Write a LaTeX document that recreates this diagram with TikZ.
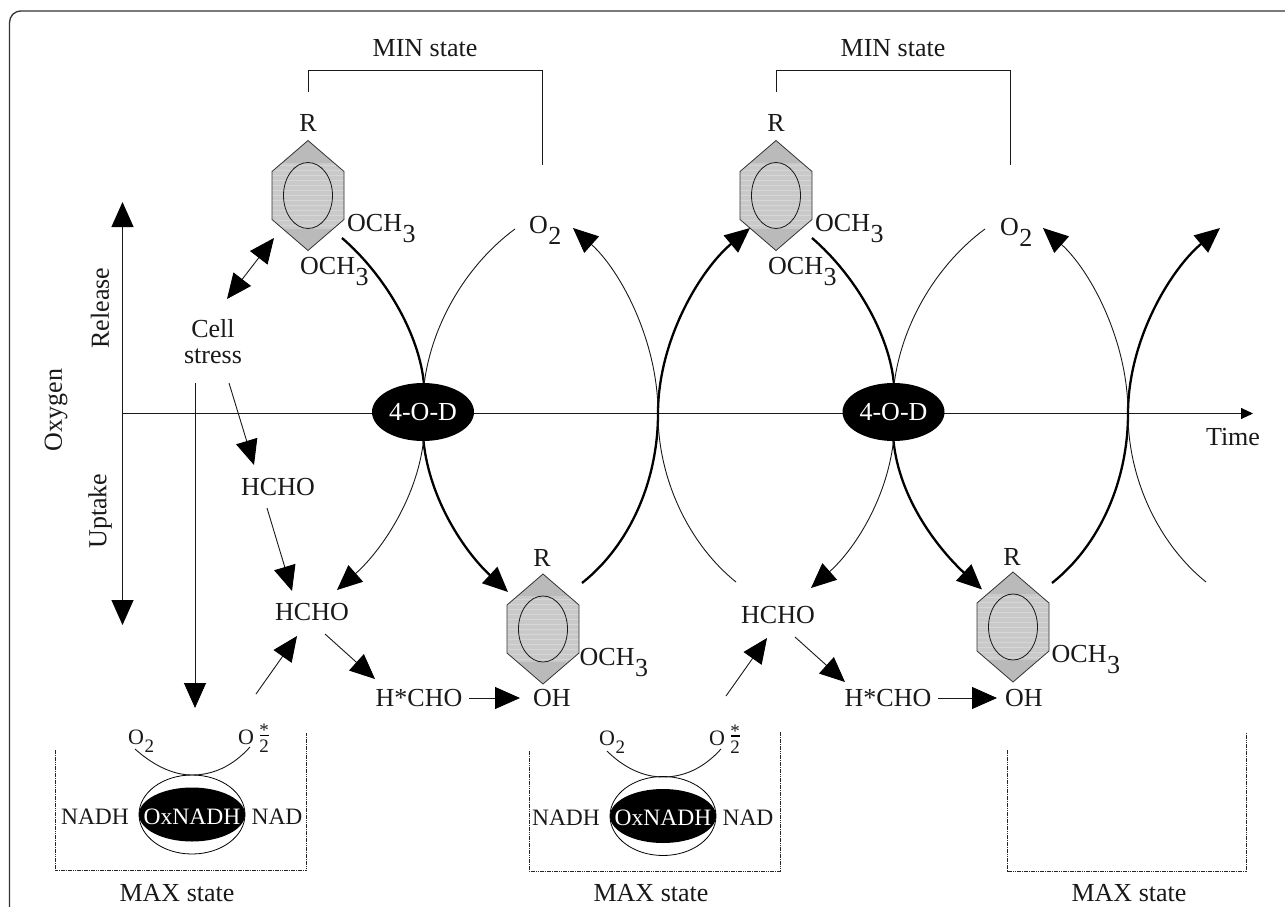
\documentclass[tikz,border=0pt]{standalone}
\usepackage{fontspec}
\setmainfont{Liberation Serif}
\usetikzlibrary{arrows.meta,calc,shapes.geometric}
\newcommand{\lsub}[1]{\kern0.5pt\raisebox{-11pt}{#1}}
\newcommand{\ssub}[1]{\kern0.5pt\raisebox{-8pt}{\fontsize{19}{19}\selectfont #1}}
\tikzset{
  x=1pt,y=-1pt,
  headtip/.tip={Triangle[length=25pt,width=22pt,color=black,fill=black]},
  bighead/.style={-headtip},
  bothheads/.style={headtip-headtip},
  thinline/.style={line width=0.9pt,color=black!90},
  thickline/.style={line width=2.3pt,color=black},
  txt/.style={font=\fontsize{26}{26}\selectfont,inner sep=0pt,color=black!90},
  basetxt/.style={txt,anchor=base west},
  smalltxt/.style={font=\fontsize{23.5}{23.5}\selectfont,inner sep=0pt,color=black!90},
  lowtxt/.style={font=\fontsize{22}{22}\selectfont,inner sep=0pt,color=black!90,anchor=base west},
  tinytxt/.style={font=\fontsize{19}{19}\selectfont,inner sep=0pt,color=black!90,anchor=base},
  enzyme/.style={fill=black,draw=none,ellipse,minimum width=102pt,minimum height=58pt,inner sep=0pt,text=white,font=\fontsize{26}{26}\selectfont},
  dashbox/.style={line width=0.8pt,dash pattern=on 1.6pt off 0.7pt,color=black!85},
  ringpic/.pic={
    \path[fill=black!27,save path=\hexpath]
      (0,-55) -- (36,-24) -- (36,24) -- (0,55) -- (-36,24) -- (-36,-24) -- cycle;
    \begin{scope}
      \clip[use path=\hexpath];
      \fill[black!21] (-36,-33) rectangle (36,33);
      \foreach \k in {-30,-25,...,30}{\draw[black!16,line width=1pt] (-36,\k) -- (36,\k);}
    \end{scope}
    \draw[black!80,line width=0.8pt,use path=\hexpath];
    \draw[black!90,line width=0.8pt] (0,0) ellipse [x radius=24.5,y radius=33];
  },
  oxunit/.pic={
    \node[fill=white,draw=black,line width=0.8pt,ellipse,minimum width=106pt,minimum height=79pt,inner sep=0pt] (-outer) at (0,0) {};
    \node[fill=black,ellipse,minimum width=106pt,minimum height=54pt,inner sep=0pt] (-inner) at (0,0) {};
    \node[smalltxt,text=white] (-lab) at (0,2) {OxNADH};
  }
}
\begin{document}
\begin{tikzpicture}
\useasboundingbox (0,0) rectangle (1285,907);
\fill[white] (0,0) rectangle (1285,907);

% frame
\coordinate (fa) at (9.5,907);
\coordinate (fb) at (1285,11);
\draw[line width=1.3pt,color=black!80] (fa) -- (9.5,23) .. controls (9.5,16) and (14,11) .. (21.5,11) -- (fb);

% axes
\coordinate (axL) at (122.5,413.5);
\coordinate (axR) at (1253,413.5);
\coordinate (vT) at (122.5,202);
\coordinate (vB) at (122.5,625);
\draw[thinline,-{Triangle[length=12pt,width=11pt,color=black,fill=black]}] (axL) -- (axR);
\draw[thinline,bothheads] (vT) -- (vB);

% rings
\pic (h1) at (308,195.5) {ringpic};
\pic (h2) at (543,629) {ringpic};
\pic (h3) at (776,195.5) {ringpic};
\pic (h4) at (1013,627) {ringpic};

% curve anchors, first and second period
\foreach \n/\dx in {a/0,b/470}{
  \coordinate (\n thickS) at ($(342,238)+(\dx,0)$);
  \coordinate (\n thinS)  at ($(515,229)+(\dx,0)$);
  \coordinate (\n top)    at ($(424,385)+(\dx,0)$);
  \coordinate (\n bot)    at ($(423.5,441)+(\dx,0)$);
  \coordinate (\n cross)  at ($(658,413.5)+(\dx,0)$);
  \coordinate (\n upS)    at ($(582,583)+(\dx,0)$);
  \coordinate (\n upT)    at ($(750,228)+(\dx,0)$);
  \coordinate (\n tnS)    at ($(736,582)+(\dx,0)$);
  \coordinate (\n tnT)    at ($(573,228)+(\dx,0)$);
  \draw[thickline] (\n thickS) .. controls +(43,37) and +(-4,-50) .. (\n top);
  \draw[thinline]  (\n thinS)  .. controls +(-45,33) and +(8,-65) .. (\n top);
  \draw[thickline,bighead] (\n upS) .. controls +(48,-38) and +(0,67) .. (\n cross) .. controls +(0,-73) and +(-50,42) .. (\n upT);
  \draw[thinline,bighead] (\n tnS) .. controls +(-46,-37) and +(0,67) .. (\n cross) .. controls +(0,-73) and +(47,42) .. (\n tnT);
}
\coordinate (aTk) at (508,592);
\coordinate (aTn) at (337,590);
\coordinate (bTk) at (982,589.5);
\coordinate (bTn) at (811,588);
\draw[thickline,bighead] (abot) .. controls +(6,59) and +(-43,-40) .. (aTk);
\draw[thinline,bighead]  (abot) .. controls +(-7,59) and +(43,-38) .. (aTn);
\draw[thickline,bighead] (bbot) .. controls +(6,59) and +(-43,-40) .. (bTk);
\draw[thinline,bighead]  (bbot) .. controls +(-7,59) and +(43,-38) .. (bTn);

% enzymes
\node[enzyme] (d1) at (423,412) {4-O-D};
\node[enzyme] (d2) at (893.5,412) {4-O-D};

% brackets
\coordinate (b1a) at (308,92);
\coordinate (b1b) at (542.5,165);
\coordinate (b2a) at (776,92);
\coordinate (b2b) at (1010.5,165);
\draw[thinline] (b1a) -- (308,70) -- (542.5,70) -- (b1b);
\draw[thinline] (b2a) -- (776,70) -- (1010.5,70) -- (b2b);
\node[txt] (min1) at (425,48) {MIN state};
\node[txt] (min2) at (893,48) {MIN state};

% labels near rings
\node[txt] (r1) at (308,123) {R};
\node[txt] (r2) at (542,558) {R};
\node[txt] (r3) at (776,123) {R};
\node[txt] (r4) at (1012,557) {R};
\node[basetxt] (och1) at (347,231) {OCH\lsub{3}};
\node[basetxt] (och2) at (300,274) {OCH\lsub{3}};
\node[basetxt] (och3) at (815,231) {OCH\lsub{3}};
\node[basetxt] (och4) at (768,274) {OCH\lsub{3}};
\node[basetxt] (och5) at (579.5,665) {OCH\lsub{3}};
\node[basetxt] (och6) at (1051.5,662) {OCH\lsub{3}};
\node[basetxt] (o21) at (529,233) {O\lsub{2}};
\node[basetxt] (o22) at (1000,235) {O\lsub{2}};
\node[basetxt] (oh1) at (533,706) {OH};
\node[basetxt] (oh2) at (1005,706) {OH};

% left side labels
\node[txt,rotate=90] (rel) at (100,308) {Release};
\node[txt,rotate=90] (upt) at (100,511) {Uptake};
\node[txt,rotate=90] (oxy) at (56,410) {Oxygen};
\node[txt] (time) at (1233,437) {Time};
\node[txt] (cell) at (213,329) {Cell};
\node[txt] (stress) at (213,356) {stress};
\node[txt] (hc0) at (278,487) {HCHO};
\node[txt] (hc1) at (312,612) {HCHO};
\node[txt] (hc2) at (778,615) {HCHO};
\node[txt] (hs1) at (419,698) {H*CHO};
\node[txt] (hs2) at (888,698) {H*CHO};

% straight arrows
\coordinate (dA) at (274,238); \coordinate (dB) at (227,299);
\draw[thinline,bothheads] (dA) -- (dB);
\coordinate (c1a) at (195,383); \coordinate (c1b) at (195,708);
\draw[thinline,bighead] (c1a) -- (c1b);
\coordinate (c2a) at (229,383); \coordinate (c2b) at (254,465);
\draw[thinline,bighead] (c2a) -- (c2b);
\coordinate (c3a) at (267,508); \coordinate (c3b) at (292,591);
\draw[thinline,bighead] (c3a) -- (c3b);
\coordinate (c4a) at (256,694); \coordinate (c4b) at (297,636);
\draw[thinline,bighead] (c4a) -- (c4b);
\coordinate (c5a) at (325,634); \coordinate (c5b) at (375,679);
\draw[thinline,bighead] (c5a) -- (c5b);
\coordinate (c6a) at (469,698); \coordinate (c6b) at (520,698);
\draw[thinline,bighead] (c6a) -- (c6b);
\coordinate (c7a) at (726,696); \coordinate (c7b) at (767,638);
\draw[thinline,bighead] (c7a) -- (c7b);
\coordinate (c8a) at (795,637); \coordinate (c8b) at (845,682);
\draw[thinline,bighead] (c8a) -- (c8b);
\coordinate (c9a) at (938,698); \coordinate (c9b) at (997,698);
\draw[thinline,bighead] (c9a) -- (c9b);

% MAX boxes
\draw[dashbox] (55,750) -- (55,870.5) -- (306,870.5) -- (306,733);
\draw[dashbox] (529,751) -- (529,871) -- (780,871) -- (780,732);
\draw[dashbox] (1007,750) -- (1007,871) -- (1246,871) -- (1246,732);
\node[txt] (mx1) at (177,893) {MAX state};
\node[txt] (mx2) at (651,893) {MAX state};
\node[txt] (mx3) at (1129,893) {MAX state};

% OxNADH units
\pic (u1) at (192,814.5) {oxunit};
\pic (u2) at (663,816) {oxunit};
\coordinate (k1a) at (135,749); \coordinate (k1b) at (250,747);
\coordinate (k2a) at (607,751); \coordinate (k2b) at (721,749);
\draw[thinline] (k1a) .. controls (155,767) and (175,775) .. (192,775) .. controls (212,775) and (232,767) .. (k1b);
\draw[thinline] (k2a) .. controls (625,769) and (645,777) .. (663,777) .. controls (683,777) and (703,769) .. (k2b);
\node[lowtxt] (u1o) at (128,744) {O\ssub{2}};
\node[lowtxt] (u2o) at (599,745) {O\ssub{2}};
\node[lowtxt] (u1s) at (238,744) {O};
\node[lowtxt] (u2s) at (709,745) {O};
\node[tinytxt] (u1t) at (264,752) {2};
\node[tinytxt] (u2t) at (735,753) {2};
\node[tinytxt] (u1a) at (264,736.5) {*};
\node[tinytxt] (u2a) at (735,737.5) {*};
\fill[black] (259.5,734.5) rectangle (268.5,736);
\fill[black] (730.5,735) rectangle (739.5,736.5);
\node[smalltxt] (n1) at (95,817) {NADH};
\node[smalltxt] (n2) at (277,817) {NAD};
\node[smalltxt] (n3) at (566,818) {NADH};
\node[smalltxt] (n4) at (748,818) {NAD};
\end{tikzpicture}
\end{document}
